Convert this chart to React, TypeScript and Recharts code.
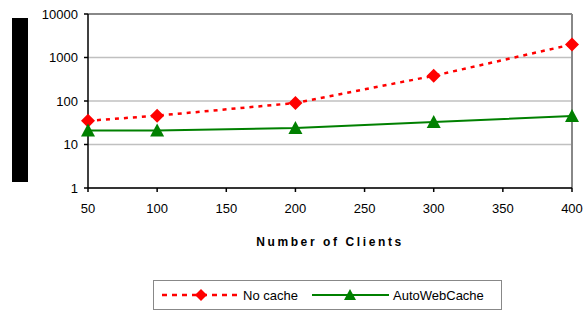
import React from 'react';
import {
  LineChart, Line, XAxis, YAxis, CartesianGrid, ReferenceLine, Label
} from 'recharts';

const clients = [50, 100, 200, 300, 400];
const noCache = [35, 46, 90, 380, 2000];
const autoWebCache = [21, 21, 24, 33, 45];
const seriesNames = ['No cache', 'AutoWebCache'];
const xTicks = [50, 100, 150, 200, 250, 300, 350, 400];
const yTicks = [1, 10, 100, 1000, 10000];

const data = clients.map((c, i) => ({ clients: c, noCache: noCache[i], auto: autoWebCache[i] }));

const FONT = '"Liberation Sans", Arial, sans-serif';

const Diamond = (props: any) => {
  const { cx, cy, index } = props;
  if (cx == null || cy == null) return null;
  return <path key={`d-${index}`} d={`M${cx},${cy - 7} L${cx + 7},${cy} L${cx},${cy + 7} L${cx - 7},${cy} Z`} fill="#ff0000" />;
};

const Triangle = (props: any) => {
  const { cx, cy, index } = props;
  if (cx == null || cy == null) return null;
  return <path key={`t-${index}`} d={`M${cx},${cy - 7} L${cx + 7},${cy + 6} L${cx - 7},${cy + 6} Z`} fill="#008000" />;
};

const App: React.FC = () => {
  return (
    <div style={{ position: 'fixed', left: 0, top: 0, width: 586, height: 313, background: '#fff', fontFamily: FONT }}>
      {/* black block where the y-axis title would be */}
      <div style={{ position: 'absolute', left: 12, top: 18, width: 16, height: 164, background: '#000' }} />
      <LineChart width={586} height={313} data={data} margin={{ top: 14, right: 14, bottom: 65, left: 48 }}>
        <CartesianGrid vertical={false} stroke="#c0c0c0" strokeWidth={1.5} />
        <ReferenceLine y={10000} stroke="#888" strokeWidth={2} />
        <ReferenceLine x={400} stroke="#888" strokeWidth={2} />
        <XAxis
          dataKey="clients"
          type="number"
          domain={[50, 400]}
          ticks={xTicks}
          height={60}
          stroke="#000"
          strokeWidth={1.5}
          tickSize={4}
          tickMargin={12}
          tick={{ fill: '#000', fontSize: 13, fontFamily: FONT }}
        >
          <Label
            value="Number of Clients"
            position="insideBottom"
            offset={2}
            style={{ fill: '#000', fontSize: 12, fontWeight: 'bold', letterSpacing: 2.6, fontFamily: FONT }}
          />
        </XAxis>
        <YAxis
          scale="log"
          domain={[1, 10000]}
          ticks={yTicks}
          allowDataOverflow
          width={40}
          stroke="#000"
          strokeWidth={1.5}
          tickSize={4}
          tickMargin={6}
          tick={{ fill: '#000', fontSize: 13, fontFamily: FONT }}
        />
        <Line
          dataKey="noCache"
          name={seriesNames[0]}
          stroke="#ff0000"
          strokeWidth={2.5}
          strokeDasharray="4 5"
          dot={Diamond}
          activeDot={false}
          isAnimationActive={false}
        />
        <Line
          dataKey="auto"
          name={seriesNames[1]}
          stroke="#008000"
          strokeWidth={2}
          dot={Triangle}
          activeDot={false}
          isAnimationActive={false}
        />
      </LineChart>
      {/* legend */}
      <div style={{ position: 'absolute', left: 153, top: 280, width: 349, height: 30, border: '1px solid #888', boxSizing: 'border-box' }}>
        <svg width={349} height={30} style={{ position: 'absolute', left: 0, top: 0 }}>
          <line x1={8} y1={14} x2={85} y2={14} stroke="#ff0000" strokeWidth={2.5} strokeDasharray="5 5" />
          <path d="M47,8 L53,14 L47,20 L41,14 Z" fill="#ff0000" />
          <text x={89} y={19} fontSize={13} fontFamily={FONT} fill="#000">{seriesNames[0]}</text>
          <line x1={158} y1={14} x2={235} y2={14} stroke="#008000" strokeWidth={2} />
          <path d="M196,8 L202,19 L190,19 Z" fill="#008000" />
          <text x={239} y={19} fontSize={13} fontFamily={FONT} fill="#000">{seriesNames[1]}</text>
        </svg>
      </div>
    </div>
  );
};

export default App;
